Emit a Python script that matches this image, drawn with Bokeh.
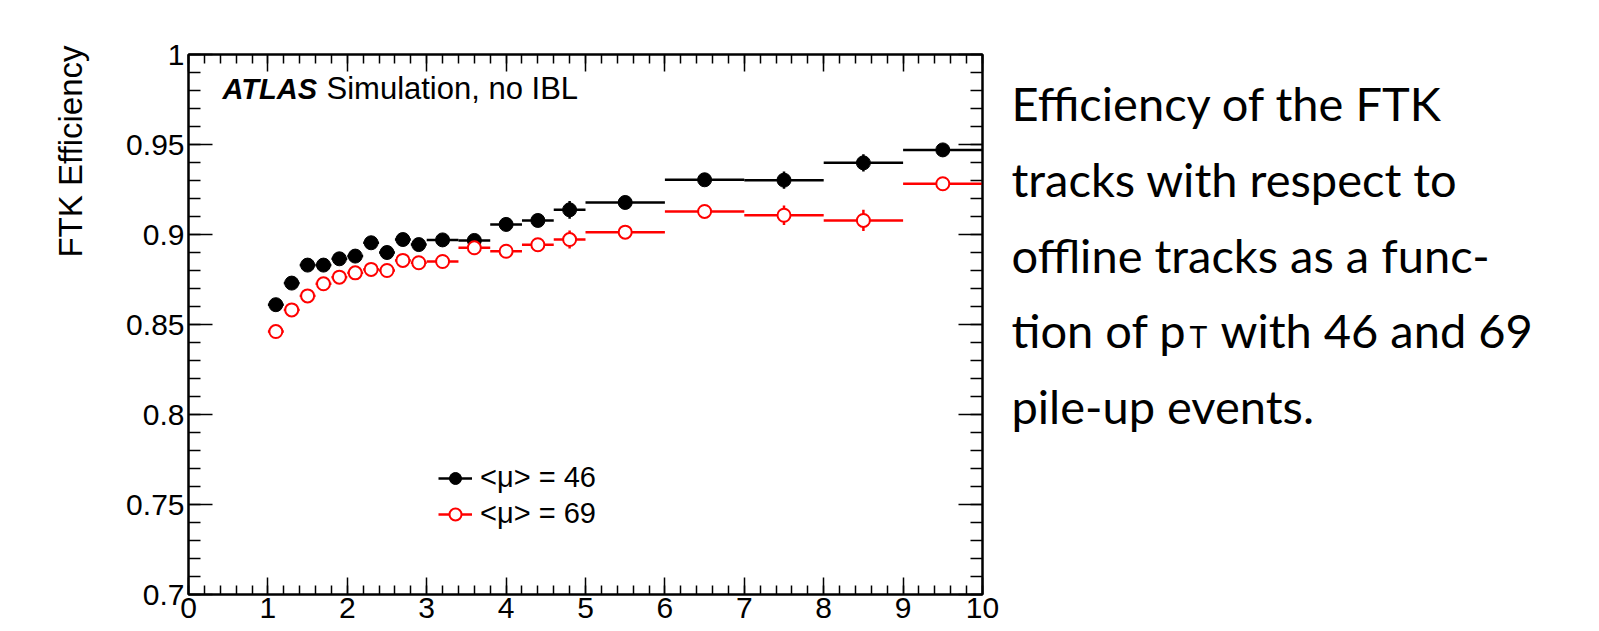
from bokeh.plotting import figure
from bokeh.layouts import row
from bokeh.models import (ColumnDataSource, LinearAxis, FixedTicker, CustomJSTickFormatter,
                          Range1d, Label, Legend, LegendItem, Title)
from bokeh.embed import file_html
from bokeh.resources import INLINE

# ---------------- data ----------------
bin_lo = [1.0, 1.2, 1.4, 1.6, 1.8, 2.0, 2.2, 2.4, 2.6, 2.8, 3.0, 3.4, 3.8, 4.2, 4.6, 5.0, 6.0, 7.0, 8.0, 9.0]
bin_hi = [1.2, 1.4, 1.6, 1.8, 2.0, 2.2, 2.4, 2.6, 2.8, 3.0, 3.4, 3.8, 4.2, 4.6, 5.0, 6.0, 7.0, 8.0, 9.0, 10.0]

eff_mu46 = [0.861, 0.873, 0.883, 0.883, 0.8865, 0.888, 0.8954, 0.890, 0.8972, 0.8944,
            0.897, 0.8967, 0.9056, 0.9078, 0.9137, 0.9178, 0.9304, 0.9302, 0.9398, 0.947]
err_mu46 = [0.002, 0.002, 0.002, 0.002, 0.002, 0.002, 0.002, 0.002, 0.002, 0.002,
            0.0025, 0.0025, 0.003, 0.003, 0.0049, 0.003, 0.003, 0.0048, 0.0048, 0.002]

eff_mu69 = [0.8461, 0.8581, 0.8659, 0.8726, 0.8763, 0.8787, 0.8806, 0.880, 0.8856, 0.8843,
            0.885, 0.8926, 0.8907, 0.8943, 0.8972, 0.9013, 0.9128, 0.9107, 0.9078, 0.9282]
err_mu69 = [0.002, 0.002, 0.002, 0.002, 0.002, 0.002, 0.002, 0.002, 0.002, 0.002,
            0.0025, 0.0025, 0.003, 0.003, 0.005, 0.003, 0.0035, 0.0054, 0.0059, 0.0025]

series_labels = ["<\u03bc> = 46", "<\u03bc> = 69"]
x_ticks = [0, 1, 2, 3, 4, 5, 6, 7, 8, 9, 10]
y_ticks = [0.7, 0.75, 0.8, 0.85, 0.9, 0.95, 1.0]
y_title = "FTK Efficiency"
atlas_text = "ATLAS"
atlas_sub = "Simulation, no IBL"
caption_lines = ["Efficiency of the FTK", "tracks with respect to", "offline tracks as a func-",
                 None, "pile-up events."]
caption_line4 = ("tion of p", "T", "with 46 and 69")

# ---------------- main figure ----------------
FONT = "Liberation Sans"
p = figure(frame_width=794, frame_height=540,
           x_range=Range1d(0, 10), y_range=Range1d(0.7, 1.0),
           output_backend="svg", toolbar_location=None,
           x_axis_location=None, y_axis_location=None,
           min_border_left=188, min_border_top=54, min_border_right=20, min_border_bottom=37)
p.grid.visible = False
p.outline_line_color = "black"
p.outline_line_width = 2

x_minor = [i * 0.2 for i in range(51)]
y_minor = [0.7 + i * 0.01 for i in range(31)]

def style_axis(ax, major_len, minor_len, labels=True):
    ax.axis_line_width = 2
    ax.axis_line_color = "black"
    ax.major_tick_in = major_len
    ax.major_tick_out = 0
    ax.minor_tick_in = minor_len
    ax.minor_tick_out = 0
    ax.major_tick_line_width = 1.5
    ax.minor_tick_line_width = 1.5
    ax.major_tick_line_color = "black"
    ax.minor_tick_line_color = "black"
    ax.major_label_text_font = FONT
    ax.major_label_text_font_size = "30px"
    ax.major_label_text_color = "black"
    if not labels:
        ax.formatter = CustomJSTickFormatter(code="return ''")

xb = LinearAxis(ticker=FixedTicker(ticks=x_ticks, minor_ticks=x_minor),
                formatter=CustomJSTickFormatter(code="return String(Math.round(tick))"))
style_axis(xb, 17, 9)
xb.major_label_standoff = 3
p.add_layout(xb, "below")

xt = LinearAxis(ticker=FixedTicker(ticks=x_ticks, minor_ticks=x_minor))
style_axis(xt, 17, 9, labels=False)
p.add_layout(xt, "above")

yl = LinearAxis(ticker=FixedTicker(ticks=y_ticks, minor_ticks=y_minor),
                formatter=CustomJSTickFormatter(code="return String(parseFloat(tick.toFixed(2)))"))
style_axis(yl, 24, 12)
yl.major_label_standoff = 4
p.add_layout(yl, "left")

yr = LinearAxis(ticker=FixedTicker(ticks=y_ticks, minor_ticks=y_minor))
style_axis(yr, 24, 12, labels=False)
p.add_layout(yr, "right")

p.add_layout(Title(text=y_title, align="right", offset=-9, standoff=70,
                   text_font=FONT, text_font_size="33px", text_font_style="normal",
                   text_color="black"), "left")

# ---------------- series ----------------
def make_source(eff, err):
    return ColumnDataSource(dict(
        x=[(a + b) / 2 for a, b in zip(bin_lo, bin_hi)],
        lo=bin_lo, hi=bin_hi, y=eff,
        ylo=[v - e for v, e in zip(eff, err)],
        yhi=[v + e for v, e in zip(eff, err)]))

s46 = make_source(eff_mu46, err_mu46)
s69 = make_source(eff_mu69, err_mu69)

h46 = p.segment(x0="lo", y0="y", x1="hi", y1="y", source=s46, line_color="black", line_width=2.5)
v46 = p.segment(x0="x", y0="ylo", x1="x", y1="yhi", source=s46, line_color="black", line_width=2.5)
d46 = p.scatter("x", "y", source=s46, marker="circle", size=14, fill_color="black", line_color="black")

h69 = p.segment(x0="lo", y0="y", x1="hi", y1="y", source=s69, line_color="#ff0000", line_width=2.5)
v69 = p.segment(x0="x", y0="ylo", x1="x", y1="yhi", source=s69, line_color="#ff0000", line_width=2.5)
d69 = p.scatter("x", "y", source=s69, marker="circle", size=13, fill_color="white",
                line_color="#ff0000", line_width=2)

legend = Legend(items=[LegendItem(label=series_labels[0], renderers=[h46, d46]),
                       LegendItem(label=series_labels[1], renderers=[h69, d69])],
                location=(250, 64), padding=0, margin=0, spacing=3,
                glyph_width=34, glyph_height=30, label_height=30, label_standoff=8,
                label_text_font=FONT, label_text_font_size="29px", label_text_color="black",
                border_line_color=None, background_fill_alpha=0)
p.add_layout(legend, "center")

p.add_layout(Label(x=34, y=506, x_units="screen", y_units="screen", text=atlas_text,
                   text_font=FONT, text_font_style="bold italic", text_font_size="29px",
                   text_baseline="alphabetic", text_color="black"))
p.add_layout(Label(x=138, y=506, x_units="screen", y_units="screen", text=atlas_sub,
                   text_font=FONT, text_font_size="31px",
                   text_baseline="alphabetic", text_color="black"))

# ---------------- caption panel (data units = page pixels) ----------------
X0 = 1002
CW = 596
c = figure(frame_width=CW, frame_height=540,
           x_range=Range1d(X0, X0 + CW), y_range=Range1d(594, 54),
           output_backend="svg", toolbar_location=None,
           x_axis_location=None, y_axis_location=None,
           min_border_left=0, min_border_right=0, min_border_top=54, min_border_bottom=37)
c.grid.visible = False
c.outline_line_color = None

CAP_FONT = "Lato"
CAP_SIZE = "47px"
line_y = [102, 178, 254, 329, 405]
for txt, yy in zip(caption_lines, line_y):
    if txt is None:
        continue
    c.add_layout(Label(x=1011, y=yy, text=txt, text_font=CAP_FONT, text_font_size=CAP_SIZE,
                       text_baseline="alphabetic", text_color="black"))
c.add_layout(Label(x=1011, y=line_y[3], text=caption_line4[0], text_font=CAP_FONT,
                   text_font_size=CAP_SIZE, text_baseline="alphabetic", text_color="black"))
c.add_layout(Label(x=1189, y=line_y[3] + 6, text=caption_line4[1], text_font=CAP_FONT,
                   text_font_size="30px", text_baseline="alphabetic", text_color="black"))
c.add_layout(Label(x=1220, y=line_y[3], text=caption_line4[2], text_font=CAP_FONT,
                   text_font_size=CAP_SIZE, text_baseline="alphabetic", text_color="black"))

layout = row(p, c, spacing=0)
open("out.html", "w").write(file_html(layout, INLINE))
